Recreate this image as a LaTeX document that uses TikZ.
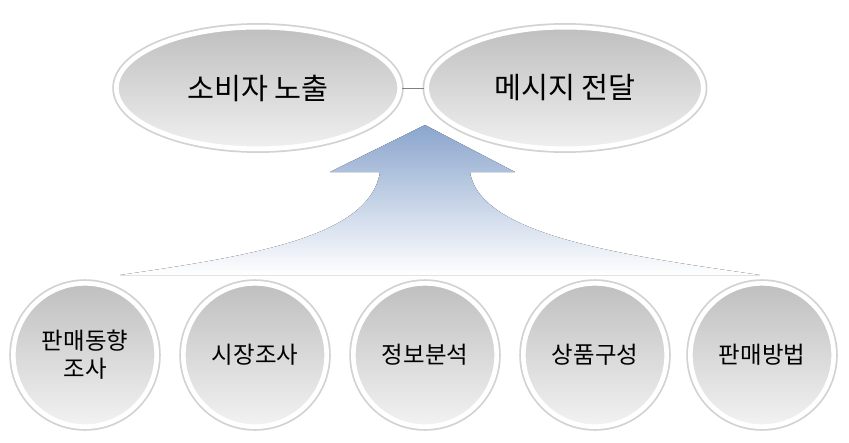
\documentclass[tikz,border=0pt]{standalone}
\usepackage{fontspec}
\newfontfamily\kr{Noto Sans CJK KR}
\usetikzlibrary{shapes.geometric}
\tikzset{
  ovalbox/.style={ellipse, minimum width=8.5cm, minimum height=3.65cm, font=\kr\fontsize{25}{28}\selectfont,
    top color=gray!50, bottom color=gray!12, draw=white, line width=4pt,
    preaction={draw=gray!35, line width=7pt}},
  ballbox/.style={circle, minimum size=4.3cm, font=\kr\fontsize{20}{24}\selectfont, align=center,
    top color=gray!50, bottom color=gray!10, draw=white, line width=4pt,
    preaction={draw=gray!35, line width=7pt}}
}
\begin{document}
\begin{tikzpicture}[x=0.03cm, y=-0.03cm]
    \useasboundingbox (0,0) rectangle (849,442);

    % Rising arrow
    \fill[top color={rgb,255:red,138;green,165;blue,205}, bottom color=white, shading angle=0]
      (425,125) -- (515,172) -- (470,172)
      .. controls (480,235) and (620,255) .. (760,275)
      -- (120,275)
      .. controls (260,255) and (370,235) .. (380,172)
      -- (330,172) -- cycle;

    % Top ovals
    \node[ovalbox] (expose) at (258,88) {소비자 노출};
    \node[ovalbox, minimum width=8.3cm] (message) at (565,88) {메시지 전달};
    \draw[gray, line width=0.8pt] (expose.east) -- (message.west);

    % Bottom balls
    \node[ballbox] (trend) at (85,355) {판매동향\\조사};
    \node[ballbox] (market) at (255,355) {시장조사};
    \node[ballbox] (info) at (425,355) {정보분석};
    \node[ballbox] (goods) at (595,355) {상품구성};
    \node[ballbox] (sales) at (762,355) {판매방법};

\end{tikzpicture}
\end{document}
